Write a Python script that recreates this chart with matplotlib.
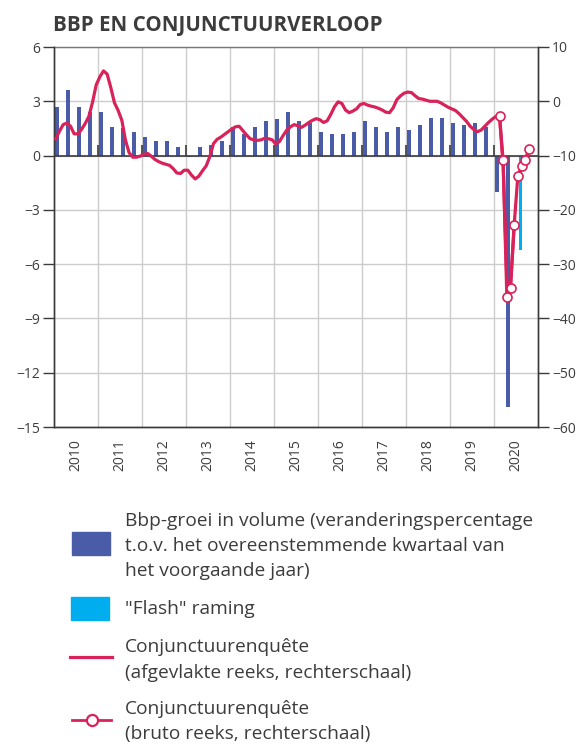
import matplotlib
matplotlib.use("Agg")
import matplotlib.pyplot as plt
from matplotlib.patches import Rectangle
from matplotlib.lines import Line2D

plt.rcParams['font.family'] = ['Open Sans', 'DejaVu Sans']

# ---------------- data ----------------
years = [str(y) for y in range(2010, 2021)]

# quarterly GDP growth (y-o-y, %), 2010Q1 .. 2020Q2
gdp_growth = [2.7, 3.6, 2.7, 2.4,
              2.4, 1.6, 1.5, 1.3,
              1.0, 0.8, 0.8, 0.45,
              -0.1, 0.5, 0.6, 0.8,
              1.6, 1.2, 1.6, 1.9,
              2.0, 2.4, 1.9, 1.8,
              1.3, 1.2, 1.2, 1.3,
              1.9, 1.6, 1.3, 1.6,
              1.4, 1.7, 2.1, 2.1,
              1.8, 1.7, 1.8, 1.6,
              -2.0, -13.9]
# flash estimate, 2020Q3 (quarter index 42)
flash_quarter = [42]
flash_value = [-5.2]

# smoothed business survey indicator, monthly from Jan 2010
survey_smoothed = [-6.9, -5.5, -4.3, -4.0, -4.6, -6.0, -6.0, -5.2, -4.1, -2.8, -0.2, 3.0,
                   4.5, 5.6, 5.0, 2.5, -0.3, -1.7, -3.5, -7.2, -9.5, -10.3, -10.3, -10.1,
                   -9.8, -9.6, -10.1, -10.7, -11.1, -11.4, -11.6, -11.8, -12.4, -13.2, -13.3, -12.7,
                   -12.7, -13.6, -14.3, -13.8, -12.8, -11.9, -10.2, -7.8, -7.0, -6.6, -6.1, -5.6,
                   -5.1, -4.7, -4.6, -5.4, -6.2, -6.9, -7.1, -7.2, -7.1, -6.8, -6.9, -7.1,
                   -7.9, -7.4, -6.3, -5.3, -4.7, -4.3, -4.5, -4.8, -4.4, -3.9, -3.5, -3.2,
                   -3.4, -3.9, -3.6, -2.4, -1.0, -0.1, -0.4, -1.6, -2.1, -1.8, -1.4, -0.6,
                   -0.4, -0.7, -0.9, -1.05, -1.3, -1.6, -2.0, -2.1, -1.2, 0.3, 1.0, 1.5,
                   1.7, 1.6, 1.0, 0.5, 0.4, 0.2, 0.0, 0.0, 0.0, -0.3, -0.7, -1.1,
                   -1.4, -1.7, -2.3, -3.0, -3.7, -4.6, -5.2, -5.6, -5.3, -4.6, -3.9, -3.3,
                   -2.8, -2.7, -12.0, -33.0, -34.0, -23.0]

# raw business survey indicator, Feb 2020 .. Oct 2020
raw_month_index = [121, 122, 123, 124, 125, 126, 127, 128, 129]
survey_raw = [-2.7, -10.9, -36.0, -34.4, -22.8, -13.8, -12.0, -10.8, -8.8]

left_ticks = [6, 3, 0, -3, -6, -9, -12, -15]
right_ticks = [10, 0, -10, -20, -30, -40, -50, -60]

legend_labels = [
    "Bbp-groei in volume (veranderingspercentage\nt.o.v. het overeenstemmende kwartaal van\nhet voorgaande jaar)",
    "\"Flash\" raming",
    "Conjunctuurenquête\n(afgevlakte reeks, rechterschaal)",
    "Conjunctuurenquête\n(bruto reeks, rechterschaal)",
]

# ---------------- style ----------------
BLUE = '#4a5ca8'
FLASH = '#00adef'
RED = '#d9215a'
TXT = '#3c3c3c'
GRID = '#cccccc'
AX = '#3a3a3a'

W, H = 583, 744
fig = plt.figure(figsize=(W / 100, H / 100), dpi=100)

left, right, top, bottom = 54, 538, 47, 427
ax = fig.add_axes([left / W, 1 - bottom / H, (right - left) / W, (bottom - top) / H])
ax2 = ax.twinx()

nq = len(years) * 4
ax.set_xlim(0, nq)
ax.set_ylim(-15, 6)
ax2.set_ylim(-60, 10)

# grid
for t in left_ticks:
    ax.axhline(t, color=GRID, lw=1.0, zorder=0)
for q in range(4, nq, 4):
    ax.axvline(q, color=GRID, lw=1.0, zorder=0)

# bars
qx = [i + 0.25 for i in range(len(gdp_growth))]
ax.bar(qx, gdp_growth, width=0.36, color=BLUE, zorder=2)
ax.bar([q + 0.42 for q in flash_quarter], flash_value, width=0.28, color=FLASH, zorder=2)

# zero line + year ticks
ax.axhline(0, color=AX, lw=1.2, zorder=3)
ax.vlines(range(4, nq, 4), 0, 0.6, color=AX, lw=1.2, zorder=3)

# lines on right axis
mx = [(m + 0.5) / 3 for m in range(len(survey_smoothed))]
ax2.plot(mx, survey_smoothed, color=RED, lw=2.3, zorder=4, solid_joinstyle='round')
rx = [(m + 0.5) / 3 for m in raw_month_index]
ax2.plot(rx, survey_raw, color=RED, lw=2.3, marker='o', ms=6.5, mfc='white',
         mec=RED, mew=1.2, zorder=5)

# axes styling
ax.set_yticks(left_ticks)
ax.set_yticklabels(['−' + str(-t) if t < 0 else str(t) for t in left_ticks])
ax2.set_yticks(right_ticks)
ax2.set_yticklabels(['−' + str(-t) if t < 0 else str(t) for t in right_ticks])
for a in (ax, ax2):
    a.tick_params(axis='y', length=8, width=1.0, color=AX, labelsize=10, labelcolor=TXT, pad=2)
    for s in a.spines.values():
        s.set_color(AX)
        s.set_linewidth(1.0)
ax.spines['top'].set_color('#777777')
ax2.spines['top'].set_visible(False)

ax.set_xticks([i * 4 + 2 for i in range(len(years))])
ax.set_xticklabels(years, rotation=90, fontsize=10, color=TXT)
ax.tick_params(axis='x', length=0, pad=9)
ax2.patch.set_visible(False)

# title
fig.text(53 / W, 1 - 31.5 / H, "BBP EN CONJUNCTUURVERLOOP", fontsize=14.8,
         fontweight='bold', color=TXT, ha='left', va='baseline')

# legend (pixel coordinates)
lg = fig.add_axes([0, 0, 1, 1], zorder=10)
lg.set_xlim(0, W)
lg.set_ylim(H, 0)
lg.axis('off')
lg.patch.set_visible(False)

lg.add_patch(Rectangle((72, 532), 38, 23, color=BLUE))
lg.add_patch(Rectangle((71, 597), 38, 23, color=FLASH))
lg.add_line(Line2D([70, 112], [657, 657], color=RED, lw=2.3))
lg.add_line(Line2D([72, 111], [720, 720], color=RED, lw=2.0))
lg.plot([91.5], [720], marker='o', ms=8, mfc='white', mec=RED, mew=1.6, ls='none')

fs = 13.8
ls = 1.5
lg.text(125, 546, legend_labels[0], fontsize=fs, color=TXT, va='center', ha='left', linespacing=ls)
lg.text(125, 609, legend_labels[1], fontsize=fs, color=TXT, va='center', ha='left')
lg.text(125, 660, legend_labels[2], fontsize=fs, color=TXT, va='center', ha='left', linespacing=ls)
lg.text(125, 722, legend_labels[3], fontsize=fs, color=TXT, va='center', ha='left', linespacing=ls)

fig.savefig('out.png', dpi=100)
